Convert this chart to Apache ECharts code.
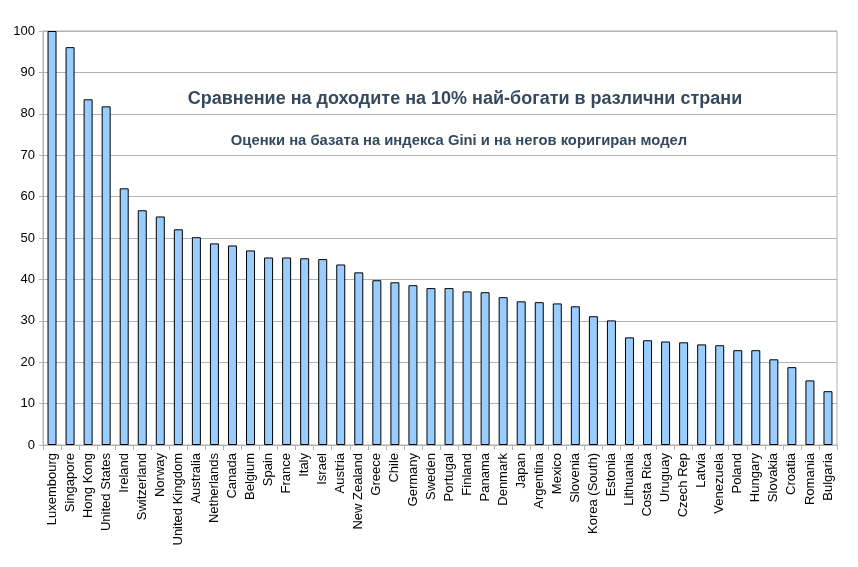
<!DOCTYPE html>
<html>
<head>
<meta charset="utf-8">
<script src="https://cdn.jsdelivr.net/npm/echarts@6/dist/echarts.min.js"></script>
<style>
  html, body { margin: 0; padding: 0; background: #fff; }
  #chart { width: 858px; height: 567px; }
</style>
</head>
<body>
<div id="chart"></div>
<script>
const countries = [
  "Luxembourg", "Singapore", "Hong Kong", "United States", "Ireland", "Switzerland",
  "Norway", "United Kingdom", "Australia", "Netherlands", "Canada", "Belgium",
  "Spain", "France", "Italy", "Israel", "Austria", "New Zealand", "Greece", "Chile",
  "Germany", "Sweden", "Portugal", "Finland", "Panama", "Denmark", "Japan",
  "Argentina", "Mexico", "Slovenia", "Korea (South)", "Estonia", "Lithuania",
  "Costa Rica", "Uruguay", "Czech Rep", "Latvia", "Venezuela", "Poland", "Hungary",
  "Slovakia", "Croatia", "Romania", "Bulgaria"
];
const values = [
  100, 96.1, 83.5, 81.8, 62.0, 56.7,
  55.2, 52.1, 50.2, 48.7, 48.2, 47.0,
  45.3, 45.3, 45.1, 44.9, 43.6, 41.7, 39.8, 39.3,
  38.6, 37.9, 37.9, 37.1, 36.9, 35.7, 34.7,
  34.5, 34.2, 33.5, 31.1, 30.1, 26.0,
  25.3, 25.0, 24.8, 24.3, 24.1, 22.9, 22.9,
  20.7, 18.8, 15.6, 13.0
];
const titleText = "Сравнение на доходите на 10% най-богати в различни страни";
const subtitleText = "Оценки на базата на индекса Gini и на негов коригиран модел";

const chart = echarts.init(document.getElementById("chart"));
const gray = "#b3b3b3";
const font = "'Liberation Sans', Arial, sans-serif";

chart.setOption({
  animation: false,
  backgroundColor: "#fff",
  title: [
    {
      text: titleText,
      left: 460, top: 85, textAlign: "center",
      textStyle: { fontFamily: font, fontSize: 18, fontWeight: "bold", color: "#34495e" }
    },
    {
      text: subtitleText,
      left: 454, top: 128, textAlign: "center",
      textStyle: { fontFamily: font, fontSize: 14.8, fontWeight: "bold", color: "#34495e" }
    }
  ],
  grid: {
    left: 43, right: 21, top: 31, bottom: 122,
    show: true, borderColor: gray, borderWidth: 1, backgroundColor: "transparent"
  },
  xAxis: {
    type: "category",
    data: countries,
    axisLine: { lineStyle: { color: gray } },
    axisTick: { show: true, length: 5, lineStyle: { color: gray } },
    axisLabel: {
      rotate: 90, interval: 0, margin: 8,
      fontFamily: font, fontSize: 13, color: "#000"
    }
  },
  yAxis: {
    type: "value",
    min: 0, max: 100, interval: 10,
    axisLine: { show: true, lineStyle: { color: gray } },
    axisTick: { show: true, length: 4, lineStyle: { color: gray } },
    splitLine: { lineStyle: { color: gray } },
    axisLabel: { fontFamily: font, fontSize: 13, color: "#000", margin: 8 }
  },
  series: [{
    type: "bar",
    data: values,
    barWidth: 9,
    itemStyle: { color: "#99ccff", borderColor: "#000", borderWidth: 1 }
  }]
});
</script>
</body>
</html>
